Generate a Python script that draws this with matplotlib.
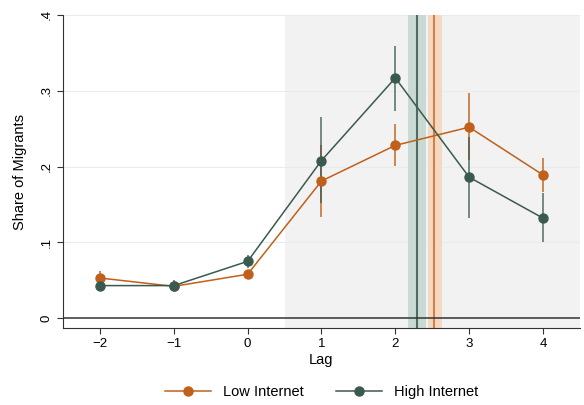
import numpy as np
import matplotlib.pyplot as plt

plt.rcParams['font.family'] = ['Liberation Sans', 'DejaVu Sans']

#-------------------------------------------------------------
#Data
#-------------------------------------------------------------
lags = [-2, -1, 0, 1, 2, 3, 4]

low_est = [0.053, 0.042, 0.058, 0.181, 0.228, 0.252, 0.189]
low_lo = [0.045, 0.036, 0.052, 0.133, 0.201, 0.209, 0.166]
low_hi = [0.062, 0.048, 0.064, 0.228, 0.256, 0.297, 0.211]

high_est = [0.043, 0.043, 0.075, 0.208, 0.317, 0.186, 0.132]
high_lo = [0.036, 0.037, 0.066, 0.152, 0.273, 0.132, 0.100]
high_hi = [0.050, 0.050, 0.084, 0.265, 0.359, 0.239, 0.165]

# mean lag lines with bands
high_mean, high_band = 2.29, (2.17, 2.41)
low_mean, low_band = 2.53, (2.44, 2.63)

orange = '#C0601A'
green = '#3B5A4F'

fig = plt.figure(figsize=(5.84, 4.05), dpi=100)
ax = fig.add_axes([0.108, 0.19, 0.885, 0.773])

ax.axvspan(0.5, 4.5, color='#F2F2F2', zorder=0, lw=0)
for yv in [0.1, 0.2, 0.3, 0.4]:
    ax.axhline(yv, color='#E6EEEC', lw=0.8, zorder=0.5)

ax.axvspan(high_band[0], high_band[1], color='#C9DAD4', zorder=1, lw=0)
ax.axvspan(low_band[0], low_band[1], color='#F4D8C0', zorder=1, lw=0)
ax.axvline(high_mean, color='#506B61', lw=1.5, zorder=1.5)
ax.axvline(low_mean, color='#D0804A', lw=1.5, zorder=1.5)

ax.axhline(0, color='#333333', lw=1.1, zorder=2)

ax.vlines(lags, low_lo, low_hi, color=orange, alpha=0.8, lw=1.3, zorder=3)
ax.vlines(lags, high_lo, high_hi, color=green, alpha=0.75, lw=1.3, zorder=3)

ax.plot(lags, low_est, color=orange, lw=1.1, marker='o', ms=6.5,
        label='Low Internet', zorder=4)
ax.plot(lags, high_est, color=green, lw=1.1, marker='o', ms=6.5,
        label='High Internet', zorder=4)

ax.set_xlim(-2.5, 4.5)
ax.set_ylim(-0.013, 0.4)
ax.set_xticks(lags)
ax.set_xticklabels(['\u22122', '\u22121', '0', '1', '2', '3', '4'])
ax.set_yticks([0, 0.1, 0.2, 0.3, 0.4])
ax.set_yticklabels(['0', '.1', '.2', '.3', '.4'], rotation=90, va='center')
ax.tick_params(labelsize=9.5, color='#333333', length=4)
ax.set_xlabel('Lag', fontsize=10.5, labelpad=2)
ax.set_ylabel('Share of Migrants', fontsize=10.5, labelpad=10)

for s in ['top', 'right']:
    ax.spines[s].set_visible(False)
for s in ['left', 'bottom']:
    ax.spines[s].set_color('#333333')

ax.legend(loc='upper center', bbox_to_anchor=(0.5, -0.14), ncol=2,
          frameon=False, fontsize=10.5, handlelength=3.2, columnspacing=2.2)

plt.savefig('out.png', dpi=100)
